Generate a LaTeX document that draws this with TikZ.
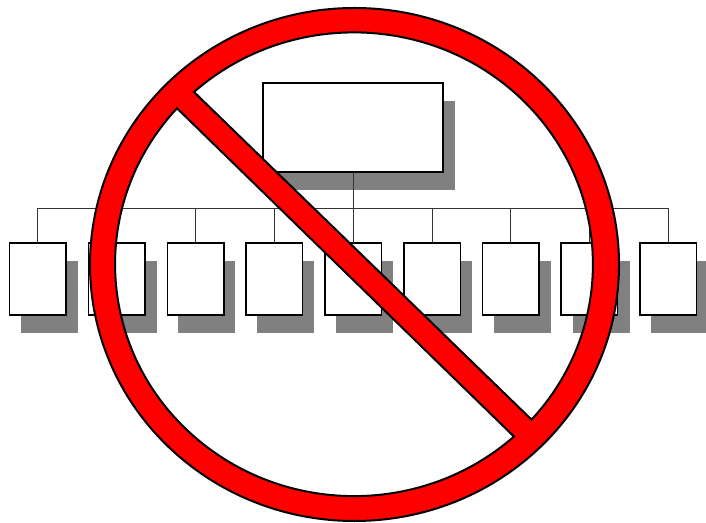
\documentclass[tikz,border=0pt]{standalone}
\begin{document}
\begin{tikzpicture}[x=1pt,y=1pt,
  orgbox/.style={draw=black,fill=white,line width=1.5pt,inner sep=0pt,outer sep=0pt,minimum width=56.5pt,minimum height=72pt},
  topbox/.style={orgbox,minimum width=180pt,minimum height=89pt},
  shade/.style={fill=black!50!white,draw=none,inner sep=0pt,outer sep=0pt,minimum width=57pt,minimum height=72pt},
  topshade/.style={shade,minimum width=180pt,minimum height=89pt},
  wire/.style={draw=black!80,line width=0.7pt},
  sign/.style={draw=black,fill=red,line width=2pt,even odd rule,line join=miter}]
\useasboundingbox (0,0) rectangle (706,522);
% shadows
\node[topshade] (ts) at (365,376) {};
\foreach \i/\x in {1/49.5,2/128.5,3/206.5,4/285.5,5/364.5,6/443.5,7/522.5,8/601.5,9/679.5}{
  \node[shade] (s\i) at (\x,225) {};
}
% boxes
\node[topbox] (top) at (353,394.5) {};
\coordinate (bus) at (353,314);
\foreach \i/\x in {1/37.75,2/116.5,3/195.5,4/274.25,5/353,6/432,7/510.75,8/589.25,9/668}{
  \node[orgbox] (b\i) at (\x,243) {};
  \draw[wire] (b\i.north) |- (bus);
}
\draw[wire] (top.south) -- (bus);
% prohibition sign
\path[sign]
  (354.5,257.5) ellipse [x radius=264.5,y radius=256.5]
  (194,430) arc [start angle=132,end angle=-42,x radius=239,y radius=232] -- cycle
  (177,413.7) arc [start angle=137.8,end angle=312,x radius=239,y radius=232] -- cycle;
\end{tikzpicture}
\end{document}
